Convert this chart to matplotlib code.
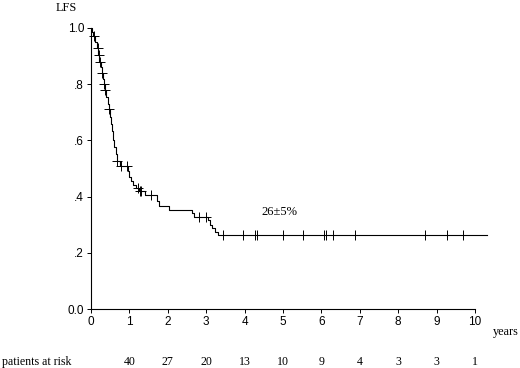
import numpy as np
import matplotlib
matplotlib.use("Agg")
import matplotlib.pyplot as plt
import matplotlib.transforms as mtransforms

# Kaplan-Meier steps (time in years, LFS after the event)
event_times = [0.02, 0.06, 0.11, 0.15, 0.19, 0.22, 0.25, 0.28, 0.31, 0.34,
               0.37, 0.40, 0.43, 0.46, 0.49, 0.52, 0.55, 0.58, 0.61, 0.64,
               0.67, 0.75, 0.97, 1.00, 1.04, 1.10, 1.18, 1.26, 1.40, 1.72,
               1.78, 2.04, 2.63, 2.68, 3.04, 3.10, 3.16, 3.22, 3.30]
surv_after = [0.985, 0.97, 0.95, 0.93, 0.905, 0.88, 0.86, 0.84, 0.82, 0.80,
              0.78, 0.755, 0.73, 0.71, 0.685, 0.66, 0.635, 0.60, 0.575, 0.55,
              0.525, 0.51, 0.49, 0.47, 0.455, 0.44, 0.43, 0.42, 0.405, 0.385,
              0.365, 0.352, 0.34, 0.328, 0.315, 0.30, 0.287, 0.275, 0.263]
follow_up_end = 10.3

# censored observations (years)
censor_times = [0.09, 0.17, 0.21, 0.23, 0.28, 0.35, 0.37, 0.48, 0.685, 0.78,
                0.93, 1.23, 1.28, 1.31, 1.55, 2.82, 2.99, 3.43, 3.95, 4.27,
                4.33, 5.01, 5.53, 6.07, 6.12, 6.29, 6.88, 8.70, 9.27, 9.68]

risk_years = [1, 2, 3, 4, 5, 6, 7, 8, 9, 10]
at_risk = [40, 27, 20, 13, 10, 9, 4, 3, 3, 1]

y_ticks = [0.0, 0.2, 0.4, 0.6, 0.8, 1.0]
y_ticklabels = ["0.0", ".2", ".4", ".6", ".8", "1.0"]
estimate_label = "26\u00b15%"

SERIF = ["Liberation Serif", "DejaVu Serif"]
SANS = ["Liberation Sans", "DejaVu Sans"]

fig = plt.figure(figsize=(5.2, 3.68), dpi=100)
ax = fig.add_axes([91 / 520, 1 - 309 / 368, 384 / 520, 281 / 368])

t = np.concatenate([[0.0], event_times, [follow_up_end]])
s = np.concatenate([[1.0], surv_after, [surv_after[-1]]])
ax.step(t, s, where="post", color="black", lw=0.8, clip_on=False)

# censor marks sit on the curve
idx = np.searchsorted(t, censor_times, side="right") - 1
ax.plot(censor_times, s[idx], ls="none", marker="+", ms=7, mew=0.7,
        color="black", clip_on=False)

ax.text(4.92, 0.345, estimate_label, ha="center", va="center",
        fontsize=9, family=SERIF)

ax.set_xlim(0, 10)
ax.set_ylim(0, 1.0)
ax.set_xticks(range(0, 11))
ax.set_yticks(y_ticks)
ax.set_yticklabels(y_ticklabels)
for lab in ax.get_xticklabels() + ax.get_yticklabels():
    lab.set_family(SANS)
    lab.set_fontsize(8.5)
ax.tick_params(length=3, width=0.7, pad=2)
for side in ("top", "right"):
    ax.spines[side].set_visible(False)
for side in ("left", "bottom"):
    ax.spines[side].set_linewidth(0.8)

fig.text(66 / 520, 1 - 8 / 368, "LFS", ha="center", va="center",
         fontsize=8.8, family=SERIF)
fig.text(493 / 520, 1 - 332 / 368, "years", ha="left", va="center",
         fontsize=8.8, family=SERIF)
fig.text(2 / 520, 1 - 362 / 368, "patients at risk", ha="left", va="center",
         fontsize=8.6, family=SERIF)
trans = mtransforms.blended_transform_factory(ax.transData, fig.transFigure)
for yr, n in zip(risk_years, at_risk):
    ax.text(yr, 1 - 362 / 368, str(n), transform=trans, ha="center",
            va="center", fontsize=8.6, family=SERIF, clip_on=False)

fig.savefig("out.png", dpi=100)
